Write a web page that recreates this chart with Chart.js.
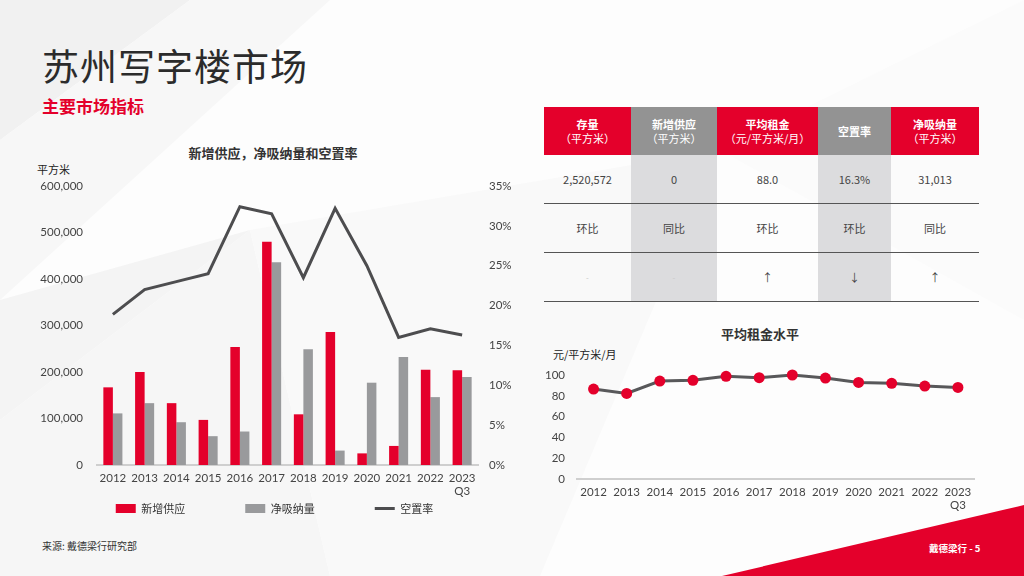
<!DOCTYPE html>
<html>
<head>
<meta charset="utf-8">
<script src="https://cdn.jsdelivr.net/npm/chart.js@4.4.1/dist/chart.umd.min.js"></script>
<style>
  html, body { margin: 0; padding: 0; }
  body { width: 1024px; height: 576px; position: relative; overflow: hidden; background: #fdfdfd;
         font-family: "Noto Sans CJK SC", sans-serif; color: #333; }
  .abs { position: absolute; white-space: nowrap; }
  #bg { position: absolute; left: 0; top: 0; }
  .title { left: 42px; top: 38px; font-size: 37px; color: #2b2b2b; letter-spacing: 1px; }
  .subtitle { left: 42px; top: 93px; font-size: 17px; font-weight: bold; color: #e4002b; }
  .ctitle { font-size: 13px; font-weight: bold; color: #333; transform: translateX(-50%); }
  .unit { font-size: 11px; color: #222; }
  table { position: absolute; left: 544px; top: 107px; border-collapse: collapse; font-size: 11px; }
  th { height: 48px; color: #fff; font-weight: normal; line-height: 14px; padding: 0; }
  th b { font-weight: bold; }
  th.r { background: #e4002b; }
  th.g { background: #939393; }
  td { text-align: center; color: #444; padding: 0; height: 48px; border-bottom: 1.5px solid #555; }
  td.g { background: #dcdcde; }
  td.dash { color: #c8c8c8; font-size: 8px; }
  .source { left: 42px; top: 538px; font-size: 10px; color: #333; }
  .page { left: 929px; top: 541px; font-size: 9.5px; font-weight: bold; color: #fff; }
</style>
</head>
<body>
<svg id="bg" width="1024" height="576">
  <polygon points="0,0 190,0 0,140" fill="#f1f1f1"/>
  <polygon points="0,140 190,0 330,0 0,300" fill="#f7f7f7"/>
  <polygon points="0,300 250,230 0,420" fill="#f4f4f4"/>
  <polygon points="0,420 250,230 330,576 0,576" fill="#f6f6f6"/>
  <polygon points="250,230 720,150 540,576 330,576" fill="#f9f9f9"/>
  <polygon points="720,150 1024,0 1024,320" fill="#fbfbfb"/>
  <polygon points="722,576 1024,505 1024,576" fill="#e4002b"/>
</svg>

<div class="abs title">苏州写字楼市场</div>
<div class="abs subtitle">主要市场指标</div>

<div class="abs ctitle" style="left:273px; top:143px;">新增供应，净吸纳量和空置率</div>
<div class="abs unit" style="left:37px; top:161px;">平方米</div>
<canvas id="supplyChart" class="abs" width="500" height="354" style="left:30px; top:170px; width:500px; height:354px;"></canvas>

<table>
  <tr>
    <th class="r" style="width:87px;"><b>存量</b><br>（平方米）</th>
    <th class="g" style="width:86px;"><b>新增供应</b><br>（平方米）</th>
    <th class="r" style="width:101px;"><b>平均租金</b><br>（元/平方米/月）</th>
    <th class="g" style="width:73px;"><b>空置率</b></th>
    <th class="r" style="width:88px;"><b>净吸纳量</b><br>（平方米）</th>
  </tr>
  <tr><td>2,520,572</td><td class="g">0</td><td>88.0</td><td class="g">16.3%</td><td>31,013</td></tr>
  <tr><td>环比</td><td class="g">同比</td><td>环比</td><td class="g">环比</td><td>同比</td></tr>
  <tr><td class="dash">-</td><td class="g dash">-</td><td>↑</td><td class="g">↓</td><td>↑</td></tr>
</table>

<div class="abs ctitle" style="left:760px; top:324px;">平均租金水平</div>
<div class="abs unit" style="left:553px; top:346px;">元/平方米/月</div>
<canvas id="rentChart" class="abs" width="440" height="152" style="left:540px; top:360px; width:440px; height:152px;"></canvas>

<div class="abs source">来源: 戴德梁行研究部</div>
<div class="abs page">戴德梁行 - 5</div>

<script>
// data
const years = ['2012', '2013', '2014', '2015', '2016', '2017', '2018', '2019', '2020', '2021', '2022', ['2023', 'Q3']];
const newSupply = [167000, 200000, 133000, 97000, 254000, 480000, 109000, 286000, 25000, 41000, 205000, 204000];
const netAbsorption = [111000, 133000, 92000, 62000, 72000, 436000, 249000, 31000, 177000, 232000, 146000, 189000];
const vacancyRate = [18.9, 22.0, 23.0, 24.0, 32.4, 31.5, 23.5, 32.2, 25.0, 16.0, 17.1, 16.3];
const avgRent = [86.5, 82.3, 94.2, 94.9, 98.7, 97.4, 100.0, 97.1, 92.9, 92.0, 89.4, 88.0];

const RED = '#e4002b';
const GREY = '#999a9c';
const LINE = '#4d4d4f';
const TICK = { size: 11.5, family: 'Lato, "Noto Sans CJK SC", sans-serif' };

Chart.defaults.font.family = '"Noto Sans CJK SC", sans-serif';
Chart.defaults.color = '#444';

// trailing ideographic spaces push legend items apart
const legendGaps = [5, 5, 1];

// fixed axis box: width set, label overflow ignored so layout.padding decides the top
function fixAxis(width) {
    return s => { s.width = width; s.paddingTop = 0; s.paddingBottom = 0; };
}

const ctx1 = document.querySelector('#supplyChart').getContext('2d');
const supplyChart = new Chart(ctx1, {
    type: 'bar',
    data: {
        labels: years,
        datasets: [
            {
                label: '新增供应',
                data: newSupply,
                backgroundColor: RED,
                yAxisID: 'y',
                order: 1,
                categoryPercentage: 0.6,
                barPercentage: 1
            },
            {
                label: '净吸纳量',
                data: netAbsorption,
                backgroundColor: GREY,
                yAxisID: 'y',
                order: 1,
                categoryPercentage: 0.6,
                barPercentage: 1
            },
            {
                type: 'line',
                label: '空置率',
                data: vacancyRate,
                borderColor: LINE,
                backgroundColor: LINE,
                borderWidth: 3,
                pointRadius: 0,
                tension: 0,
                yAxisID: 'y1',
                order: 0
            }
        ]
    },
    options: {
        responsive: false,
        animation: false,
        layout: { padding: { top: 16, left: 0, right: 0, bottom: 0 } },
        plugins: {
            tooltip: { enabled: false },
            legend: {
                position: 'bottom',
                labels: {
                    usePointStyle: true,
                    pointStyleWidth: 20,
                    boxHeight: 9,
                    padding: 5,
                    color: '#333',
                    font: { size: 11 },
                    generateLabels(chart) {
                        const items = Chart.defaults.plugins.legend.labels.generateLabels(chart);
                        items.sort((a, b) => a.datasetIndex - b.datasetIndex);
                        items.forEach(it => {
                            const isLine = it.datasetIndex === 2;
                            it.pointStyle = isLine ? 'line' : 'rect';
                            if (!isLine) it.lineWidth = 0;
                            it.text = it.text + '\u3000'.repeat(legendGaps[it.datasetIndex]);
                        });
                        return items;
                    }
                }
            }
        },
        scales: {
            x: {
                grid: { display: false, drawTicks: false },
                border: { color: '#cfcfcf', width: 2 },
                ticks: { padding: 7, font: { ...TICK, lineHeight: 1.1 }, maxRotation: 0 },
                afterFit(s) { s.height = 33; }
            },
            y: {
                position: 'left',
                min: 0,
                max: 600000,
                grid: { display: false, drawTicks: false },
                border: { display: false },
                ticks: { stepSize: 100000, padding: 14, font: TICK, callback: v => v.toLocaleString('en-US') },
                afterFit: fixAxis(67)
            },
            y1: {
                position: 'right',
                min: 0,
                max: 35,
                grid: { display: false, drawTicks: false },
                border: { display: false },
                ticks: { stepSize: 5, padding: 11, font: TICK, callback: v => v + '%' },
                afterFit: fixAxis(52)
            }
        }
    }
});

// Average rent chart
const ctx2 = document.querySelector('#rentChart').getContext('2d');
const rentChart = new Chart(ctx2, {
    type: 'line',
    data: {
        labels: years,
        datasets: [{
            label: '平均租金',
            data: avgRent,
            borderColor: '#58585a',
            borderWidth: 3,
            tension: 0,
            pointRadius: 5.5,
            pointBackgroundColor: RED,
            pointBorderWidth: 0,
            clip: false
        }]
    },
    options: {
        responsive: false,
        animation: false,
        layout: { padding: { top: 15, left: 0, right: 4, bottom: 0 } },
        plugins: { legend: { display: false }, tooltip: { enabled: false } },
        scales: {
            x: {
                offset: true,
                grid: { display: false, drawTicks: false },
                border: { color: '#cfcfcf', width: 2 },
                ticks: { padding: 7, font: { ...TICK, lineHeight: 1.1 }, maxRotation: 0 },
                afterFit(s) { s.height = 33; }
            },
            y: {
                min: 0,
                max: 100,
                grid: { display: false, drawTicks: false },
                border: { display: false },
                ticks: { stepSize: 20, padding: 12, font: TICK },
                afterFit: fixAxis(37)
            }
        }
    }
});
</script>
</body>
</html>
